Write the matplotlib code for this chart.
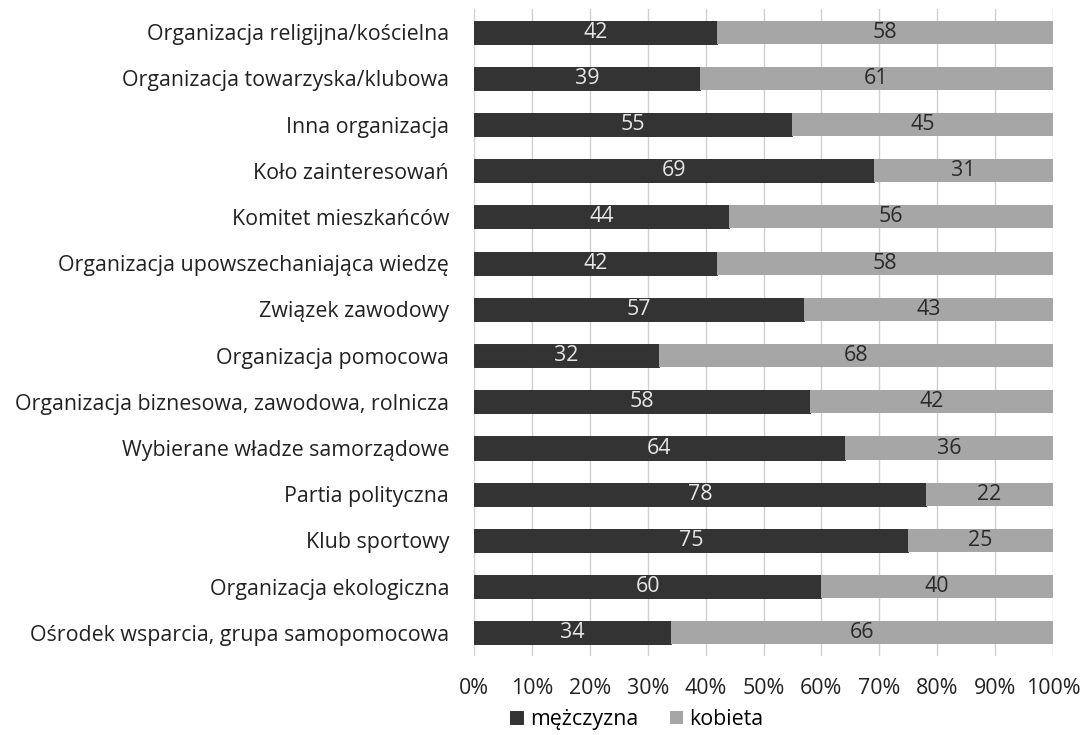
import matplotlib
matplotlib.use("Agg")
import matplotlib.pyplot as plt
import numpy as np

#%% Dane
kategorie = [
    "Organizacja religijna/kościelna",
    "Organizacja towarzyska/klubowa",
    "Inna organizacja",
    "Koło zainteresowań",
    "Komitet mieszkańców",
    "Organizacja upowszechaniająca wiedzę",
    "Związek zawodowy",
    "Organizacja pomocowa",
    "Organizacja biznesowa, zawodowa, rolnicza",
    "Wybierane władze samorządowe",
    "Partia polityczna",
    "Klub sportowy",
    "Organizacja ekologiczna",
    "Ośrodek wsparcia, grupa samopomocowa",
]
mezczyzna = [42, 39, 55, 69, 44, 42, 57, 32, 58, 64, 78, 75, 60, 34]
kobieta = [58, 61, 45, 31, 56, 58, 43, 68, 42, 36, 22, 25, 40, 66]
ticki = [0, 10, 20, 30, 40, 50, 60, 70, 80, 90, 100]

#%% Plot
plt.rcParams['font.family'] = ['Open Sans', 'DejaVu Sans']
ciemny = "#333333"
jasny = "#a6a6a6"
fs = 15.4

fig = plt.figure(figsize=(10.85, 7.35), dpi=100)
ax = fig.add_axes([0.4369, 0.1075, 0.5336, 0.8803])

y = np.arange(len(kategorie))
b1 = ax.barh(y, mezczyzna, height=0.5, color=ciemny, edgecolor="#222222",
             linewidth=0.6, label="mężczyzna", zorder=3)
b2 = ax.barh(y, kobieta, left=mezczyzna, height=0.5, color=jasny,
             label="kobieta", zorder=3)

# etykiety w slupkach
for i in range(len(kategorie)):
    ax.text(mezczyzna[i] / 2, y[i], str(mezczyzna[i]), ha="center",
            va="center", color="#e6e6e6", fontsize=fs, zorder=4)
    ax.text(mezczyzna[i] + kobieta[i] / 2, y[i], str(kobieta[i]),
            ha="center", va="center", color="#2a2a2a", fontsize=fs, zorder=4)

ax.set_xlim(0, 100)
ax.set_ylim(len(kategorie) - 0.5, -0.5)
ax.set_yticks(y)
ax.set_yticklabels(kategorie, fontsize=fs, color="#222222")
ax.set_xticks(ticks=ticki)
ax.set_xticklabels([f"{t}%" for t in ticki], fontsize=fs, color="#222222")
ax.tick_params(axis="both", length=0)
ax.tick_params(axis="x", pad=16)
ax.tick_params(axis="y", pad=18)
ax.grid(axis="x", color="#d0d0d0", linewidth=1, zorder=0)
for s in ax.spines.values():
    s.set_visible(False)

fig.legend(handles=[b1, b2], loc="center", bbox_to_anchor=(0.587, 0.021),
           ncol=2, frameon=False, fontsize=fs, handlelength=0.6,
           handleheight=0.6, handletextpad=0.3, columnspacing=1.5)

fig.savefig("out.png", dpi=100)
